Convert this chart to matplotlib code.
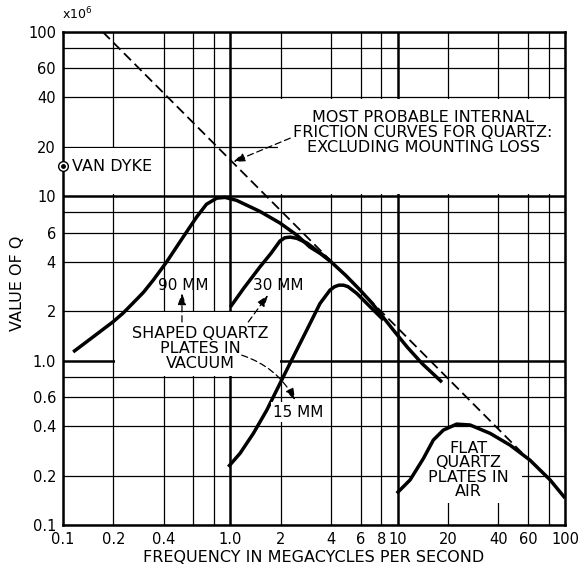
import matplotlib
matplotlib.use("Agg")
import matplotlib.pyplot as plt
from matplotlib.patches import Rectangle

plt.rcParams['font.family'] = ['DejaVu Sans']

# grid / tick values (both axes logarithmic)
grid_vals = [0.1, 0.2, 0.4, 0.6, 0.8, 1, 2, 4, 6, 8, 10, 20, 40, 60, 80, 100]
heavy_vals = [1, 10]
x_ticks = [0.1, 0.2, 0.4, 1, 2, 4, 6, 8, 10, 20, 40, 60, 100]
x_labels = ["0.1", "0.2", "0.4", "1.0", "2", "4", "6", "8", "10", "20", "40", "60", "100"]
y_ticks = [0.1, 0.2, 0.4, 0.6, 1, 2, 4, 6, 10, 20, 40, 60, 100]
y_labels = ["0.1", "0.2", "0.4", "0.6", "1.0", "2", "4", "6", "10", "20", "40", "60", "100"]

# curves (frequency in Mc, Q in units of 10^6)
f_90 = [0.115, 0.152, 0.20, 0.229, 0.263, 0.302, 0.347, 0.417, 0.524, 0.63, 0.72, 0.83, 0.93,
        1.09, 1.5, 1.98, 2.5, 2.99, 3.5, 3.94, 4.9, 5.96, 7.0, 8.18, 9.7, 11.4, 14.0, 18.4]
q_90 = [1.13, 1.40, 1.73, 1.95, 2.25, 2.6, 3.1, 4.0, 5.68, 7.5, 8.95, 9.75, 9.85,
        9.45, 8.1, 6.88, 5.8, 4.91, 4.45, 4.05, 3.3, 2.69, 2.25, 1.84, 1.48, 1.21, 0.96, 0.74]

f_30 = [1.0, 1.2, 1.5, 1.75, 1.98, 2.12, 2.28, 2.5, 2.87, 3.43, 3.94]
q_30 = [2.12, 2.75, 3.71, 4.5, 5.35, 5.6, 5.65, 5.55, 5.2, 4.52, 4.05]

f_15 = [0.973, 1.143, 1.373, 1.651, 1.982, 2.38, 2.862, 3.436, 3.944, 4.2, 4.45, 4.75,
        5.05, 5.69, 6.84, 8.22]
q_15 = [0.226, 0.273, 0.361, 0.50, 0.728, 1.057, 1.535, 2.23, 2.69, 2.82, 2.88, 2.88,
        2.82, 2.57, 2.13, 1.77]

f_flat = [9.88, 11.86, 14.25, 16.34, 18.75, 22.5, 27.1, 35.7, 47.0, 61.8, 81.5, 100]
q_flat = [0.156, 0.188, 0.254, 0.329, 0.378, 0.411, 0.406, 0.361, 0.306, 0.248, 0.188,
          0.146]

f_limit = [0.173, 55.5]
q_limit = [100, 0.274]

van_dyke = (0.1, 15.2)

fig = plt.figure(figsize=(5.81, 5.68), dpi=100)
ax = fig.add_axes([63 / 581, 1 - 525 / 568, 502 / 581, 493 / 568])
ax.set_xscale("log")
ax.set_yscale("log")
ax.set_xlim(0.1, 100)
ax.set_ylim(0.1, 100)

for v in grid_vals:
    lw = 1.8 if v in heavy_vals else 0.9
    ax.axvline(v, color="black", lw=lw, zorder=1)
    ax.axhline(v, color="black", lw=lw, zorder=1)

# white label panels that hide the grid
panels = [
    (1.92, 10.4, 100, 39.3),   # most probable ...
    (0.1, 10.4, 0.39, 19.6),   # van dyke
    (0.205, 0.81, 1.97, 1.97), # shaped quartz
    (12.0, 0.137, 55, 0.385),  # flat quartz
]
for x0, y0, x1, y1 in panels:
    ax.add_patch(Rectangle((x0, y0), x1 - x0, y1 - y0, facecolor="white",
                           edgecolor="none", zorder=2))

ax.xaxis.set_minor_locator(matplotlib.ticker.NullLocator())
ax.yaxis.set_minor_locator(matplotlib.ticker.NullLocator())
ax.set_xticks(x_ticks)
ax.set_xticklabels(x_labels)
ax.set_yticks(y_ticks)
ax.set_yticklabels(y_labels)
ax.tick_params(length=0, labelsize=10.5, pad=5)
for s in ax.spines.values():
    s.set_linewidth(1.8)
    s.set_zorder(6)

ax.plot(f_limit, q_limit, color="black", lw=1.3, dashes=(5.5, 2.8), zorder=3)
for f, q in [(f_90, q_90), (f_30, q_30), (f_15, q_15), (f_flat, q_flat)]:
    ax.plot(f, q, color="black", lw=2.5, solid_joinstyle="round",
            solid_capstyle="butt", zorder=4)

ax.plot(*van_dyke, marker="o", ms=7, mfc="white", mec="black", mew=1.0,
        clip_on=False, zorder=7)
ax.plot(*van_dyke, marker="o", ms=2.5, color="black", clip_on=False, zorder=8)
ax.text(0.113, 15.2, "VAN DYKE", fontsize=11.5, va="center", ha="left", zorder=5)

ax.text(14.2, 24.6, "MOST PROBABLE INTERNAL\nFRICTION CURVES FOR QUARTZ:\nEXCLUDING MOUNTING LOSS",
        fontsize=11.5, ha="center", va="center", linespacing=1.0, zorder=5)
ax.text(0.52, 2.88, "90 MM", fontsize=11, ha="center", va="center", zorder=5)
ax.text(1.93, 2.88, "30 MM", fontsize=11, ha="center", va="center", zorder=5)
ax.text(0.66, 1.19, "SHAPED QUARTZ\nPLATES IN\nVACUUM", fontsize=11.5,
        ha="center", va="center", linespacing=1.0, zorder=5)
ax.text(2.54, 0.487, "15 MM", fontsize=11, ha="center", va="center", zorder=5,
        bbox=dict(facecolor="white", edgecolor="none", pad=1.5))
ax.text(26.4, 0.216, "FLAT\nQUARTZ\nPLATES IN\nAIR", fontsize=11.5,
        ha="center", va="center", linespacing=0.95, zorder=5)

arrow = dict(arrowstyle="-|>,head_length=0.7,head_width=0.25", color="black",
             lw=0.9, linestyle=(0, (5, 3)), shrinkA=0, shrinkB=0)
ax.annotate("", xy=(1.04, 16.2), xytext=(2.28, 22.6), arrowprops=arrow, zorder=5)
ax.annotate("", xy=(0.514, 2.58), xytext=(0.514, 1.72), arrowprops=arrow, zorder=5)
ax.annotate("", xy=(1.68, 2.51), xytext=(1.28, 1.72), arrowprops=arrow, zorder=5)
ax.annotate("", xy=(2.44, 0.575), xytext=(1.17, 1.08),
            arrowprops=dict(arrow, connectionstyle="arc3,rad=-0.2"), zorder=5)

fig.text(62 / 581, 1 - 22 / 568, r"x10$^6$", fontsize=9, ha="left", va="bottom")
fig.text(18 / 581, 1 - 283 / 568, "VALUE OF Q", fontsize=11.5, rotation=90,
         ha="center", va="center")
fig.text(314 / 581, 1 - 557 / 568, "FREQUENCY IN MEGACYCLES PER SECOND",
         fontsize=11.5, ha="center", va="center")

fig.savefig("out.png", dpi=100)
